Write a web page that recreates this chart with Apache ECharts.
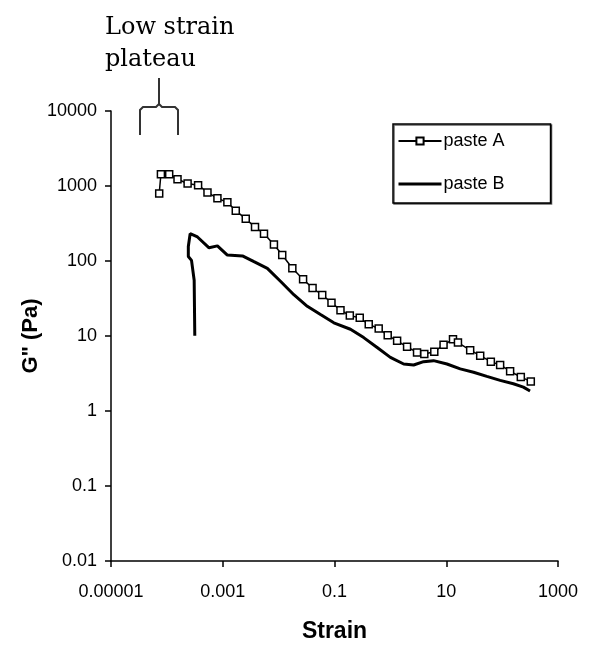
<!DOCTYPE html>
<html>
<head>
<meta charset="utf-8">
<script src="https://cdn.jsdelivr.net/npm/echarts@6/dist/echarts.min.js"></script>
<style>html,body{margin:0;padding:0;background:#fff;}#c{width:615px;height:648px;}</style>
</head>
<body>
<div id="c"></div>
<script>
// Strain (x) and G'' in Pa (y)
const strainA = [7.29e-5, 7.82e-5, 1.10e-4, 1.55e-4, 2.35e-4, 3.62e-4, 5.33e-4, 8.03e-4, 1.21e-3, 1.71e-3, 2.58e-3, 3.78e-3, 5.47e-3, 8.24e-3, 1.16e-2, 1.76e-2, 2.74e-2, 4.05e-2, 6.03e-2, 8.83e-2, 0.128, 0.188, 0.283, 0.410, 0.618, 0.896, 1.32, 1.99, 3.00, 4.05, 6.11, 8.95, 13.2, 16.2, 26.8, 40.5, 62.8, 92.1, 139, 216, 326];
const gA      = [796, 1432, 1432, 1230, 1079, 1025, 821, 684, 606, 469, 365, 283, 231, 166, 120, 80, 57.2, 43.5, 35.2, 27.8, 22.1, 18.7, 17.5, 14.3, 12.6, 10.2, 8.61, 7.18, 6.04, 5.74, 6.17, 7.63, 9.04, 8.18, 6.48, 5.46, 4.55, 4.11, 3.39, 2.83, 2.48];

const strainB = [3.16e-4, 3.08e-4, 2.76e-4, 2.42e-4, 2.42e-4, 2.61e-4, 3.53e-4, 5.69e-4, 8.03e-4, 1.21e-3, 2.25e-3, 3.62e-3, 6.28e-3, 1.09e-2, 1.87e-2, 3.26e-2, 5.62e-2, 9.73e-2, 0.193, 0.333, 0.580, 1.0, 1.73, 2.61, 3.93, 5.93, 10.3, 17.8, 30.8, 53.3, 92.1, 159, 240, 316];
const gB      = [10.1, 55.5, 102, 115, 156, 231, 209, 150, 159, 120, 117, 97.9, 79.8, 53.3, 35.5, 24.9, 19.3, 15.0, 12.3, 9.52, 7.03, 5.19, 4.23, 4.11, 4.55, 4.69, 4.23, 3.64, 3.29, 2.89, 2.56, 2.31, 2.08, 1.85];

const seriesNames = ['paste A', 'paste B'];
const xTickValues = [1e-5, 1e-3, 0.1, 10, 1000];
const xTickLabels = ['0.00001', '0.001', '0.1', '10', '1000'];
const yTickValues = [0.01, 0.1, 1, 10, 100, 1000, 10000];
const yTickLabels = ['0.01', '0.1', '1', '10', '100', '1000', '10000'];

function labelFor(values, labels, v) {
  const e = Math.round(Math.log10(v));
  for (let i = 0; i < values.length; i++) {
    if (Math.round(Math.log10(values[i])) === e) return labels[i];
  }
  return '';
}

const chart = echarts.init(document.getElementById('c'), null, {renderer: 'canvas'});
const axisText = {fontFamily: 'Liberation Sans, Arial, sans-serif', fontSize: 18, color: '#000'};
const bracketStyle = {fill: null, stroke: '#333', lineWidth: 2};

chart.setOption({
  animation: false,
  backgroundColor: '#fff',
  grid: {left: 111, right: 57, top: 111, bottom: 82, containLabel: false},
  xAxis: {
    type: 'log', logBase: 10, min: 1e-5, max: 1000,
    name: 'Strain', nameLocation: 'middle', nameGap: 59, nameMoveOverlap: false,
    nameTextStyle: {fontFamily: 'Liberation Sans, Arial, sans-serif', fontSize: 23, fontWeight: 'bold', color: '#000'},
    axisLine: {show: true, onZero: false, lineStyle: {color: '#000', width: 1.5}},
    axisTick: {show: true, inside: false, length: 6, lineStyle: {color: '#000', width: 1.5}, customValues: xTickValues},
    axisLabel: Object.assign({margin: 22, customValues: xTickValues, formatter: v => labelFor(xTickValues, xTickLabels, v)}, axisText),
    splitLine: {show: false}, minorTick: {show: false}
  },
  yAxis: {
    type: 'log', logBase: 10, min: 0.01, max: 10000,
    name: 'G" (Pa)', nameLocation: 'middle', nameGap: 69, nameRotate: 90, nameMoveOverlap: false,
    nameTextStyle: {fontFamily: 'Liberation Sans, Arial, sans-serif', fontSize: 22, fontWeight: 'bold', color: '#000'},
    axisLine: {show: true, onZero: false, lineStyle: {color: '#000', width: 1.5}},
    axisTick: {show: true, inside: false, length: 6, lineStyle: {color: '#000', width: 1.5}, customValues: yTickValues},
    axisLabel: Object.assign({margin: 14, customValues: yTickValues, formatter: v => labelFor(yTickValues, yTickLabels, v)}, axisText),
    splitLine: {show: false}, minorTick: {show: false}
  },
  legend: {
    data: [
      {name: seriesNames[0]},
      {name: seriesNames[1], itemStyle: {opacity: 0}, lineStyle: {width: 3, color: '#000'}}
    ],
    orient: 'vertical', left: 393, top: 124,
    padding: [8, 46, 10, 4],
    itemWidth: 43, itemHeight: 9, itemGap: 25,
    borderColor: '#000', borderWidth: 1.5, backgroundColor: '#fff',
    shadowColor: 'rgba(0,0,0,0.6)', shadowOffsetX: 1, shadowOffsetY: 1, shadowBlur: 0,
    textStyle: {fontFamily: 'Liberation Sans, Arial, sans-serif', fontSize: 18, color: '#000', padding: [0, 0, 0, -3]}
  },
  series: [
    {
      name: seriesNames[0], type: 'line',
      data: strainA.map((s, i) => [s, gA[i]]),
      symbol: 'rect', symbolSize: 7, showAllSymbol: true,
      itemStyle: {color: '#fff', borderColor: '#000', borderWidth: 1.5},
      lineStyle: {color: '#000', width: 1.5},
      z: 3
    },
    {
      name: seriesNames[1], type: 'line',
      data: strainB.map((s, i) => [s, gB[i]]),
      symbol: 'none', showSymbol: false,
      itemStyle: {color: '#000'},
      lineStyle: {color: '#000', width: 3},
      z: 2
    }
  ],
  graphic: [
    {type: 'text', x: 105, y: 16, style: {text: 'Low strain', font: '24px "DejaVu Serif", serif', fill: '#000'}},
    {type: 'text', x: 105, y: 48, style: {text: 'plateau', font: '24px "DejaVu Serif", serif', fill: '#000'}},
    {type: 'polyline', shape: {points: [[159, 78], [159, 104]]}, style: bracketStyle},
    {type: 'polyline', shape: {points: [[159, 104], [156, 107], [143, 107], [140, 110], [140, 135]]}, style: bracketStyle},
    {type: 'polyline', shape: {points: [[159, 104], [162, 107], [175, 107], [178, 110], [178, 135]]}, style: bracketStyle}
  ]
});
</script>
</body>
</html>
